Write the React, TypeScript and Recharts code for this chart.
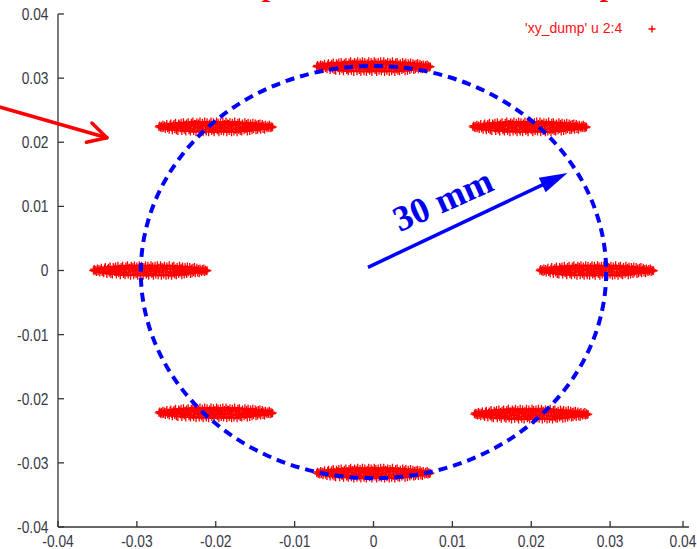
import React from 'react';
import {
  ScatterChart,
  Scatter,
  XAxis,
  YAxis,
  ReferenceArea,
  ReferenceLine,
  ReferenceDot,
  Legend,
} from 'recharts';

// ---------- data ----------
const xTicks = [-0.04, -0.03, -0.02, -0.01, 0, 0.01, 0.02, 0.03, 0.04];
const yTicks = [-0.04, -0.03, -0.02, -0.01, 0, 0.01, 0.02, 0.03, 0.04];

// centres of the eight beamlet spots (m)
const beamX = [0, 0.0198, 0.0283, 0.02, 0, -0.02, -0.0283, -0.02];
const beamY = [0.0318, 0.0224, 0, -0.0224, -0.0316, -0.0222, 0, 0.0224];

// spread of the dumped particles around each centre, in units of 1e-4 m: [dx, dy]
const spread: [number, number][] = [
  [-72, 0], [-71, 2], [-70, -1], [-69, 1], [-68, -2], [-67, 3], [-66, -1], [-65, 2], [-64, -3], [-63, 1],
  [-62, 4], [-61, -2], [-60, 0], [-59, -4], [-58, 3], [-57, 5], [-56, -1], [-55, -5], [-54, 2], [-53, 4],
  [-52, -3], [-51, 6], [-50, -5], [-49, 1], [-48, -6], [-47, 5], [-46, 3], [-45, -2], [-44, 6], [-43, -6],
  [-42, 0], [-41, 7], [-40, -4], [-39, 3], [-38, -7], [-37, 5], [-36, -1], [-35, 7], [-34, -5], [-33, 2],
  [-32, -7], [-31, 6], [-30, -3], [-29, 8], [-28, -6], [-27, 1], [-26, 4], [-25, -8], [-24, 7], [-23, -2],
  [-22, 5], [-21, -7], [-20, 8], [-19, 0], [-18, -5], [-17, 6], [-16, -8], [-15, 3], [-14, 8], [-13, -4],
  [-12, -7], [-11, 7], [-10, 1], [-9, -8], [-8, 5], [-7, -3], [-6, 8], [-5, -6], [-4, 2], [-3, 7],
  [-2, -8], [-1, 4], [0, -1], [1, 8], [2, -5], [3, 6], [4, -8], [5, 2], [6, 7], [7, -6],
  [8, 0], [9, 8], [10, -7], [11, 4], [12, -3], [13, 8], [14, -8], [15, 5], [16, 1], [17, -6],
  [18, 7], [19, -2], [20, -8], [21, 6], [22, 3], [23, -7], [24, 8], [25, -4], [26, 2], [27, -8],
  [28, 6], [29, -1], [30, 7], [31, -6], [32, 3], [33, -7], [34, 5], [35, 0], [36, -5], [37, 7],
  [38, -3], [39, 4], [40, -7], [41, 6], [42, -1], [43, -6], [44, 5], [45, 2], [46, -5], [47, 6],
  [48, -3], [49, 1], [50, 5], [51, -5], [52, 3], [53, -4], [54, 4], [55, -2], [56, 5], [57, -4],
  [58, 1], [59, 4], [60, -3], [61, 2], [62, -4], [63, 3], [64, 0], [65, -2], [66, 2], [67, -1],
  [68, 3], [69, -2], [70, 1], [71, -1], [72, 0],
  [-50, 1], [-44, -2], [-38, 2], [-33, -3], [-27, 4], [-22, -1], [-17, 2], [-12, 3], [-7, -1], [-3, -4],
  [2, 3], [6, -2], [11, -1], [16, 4], [20, 2], [25, 3], [29, -4], [34, -2], [39, 1], [45, -1], [50, 0],
];

// ---------- built table ----------
const points = beamX.flatMap((cx, i) =>
  spread.map(([dx, dy]) => ({ x: cx + dx / 10000, y: beamY[i] + dy / 10000 }))
);

// ---------- styles ----------
const SANS = "'Liberation Sans', Arial, sans-serif";
const SERIF = "'Liberation Serif', 'Times New Roman', serif";
const AXIS = '#333333';
const LABEL = '#383848';
const fmt = (v: number) => String(Number(v.toFixed(2)));

const BottomTick = (p: any) => (
  <g>
    <line x1={p.x} x2={p.x} y1={p.y} y2={p.y - 6} stroke={AXIS} strokeWidth={1.3} />
    <text
      transform={`translate(${p.x},${p.y + 20}) scale(1,1.2)`}
      textAnchor="middle"
      fontSize={13.8}
      fontFamily={SANS}
      fill={LABEL}
    >
      {fmt(p.payload.value)}
    </text>
  </g>
);

const LeftTick = (p: any) => (
  <g>
    <line x1={p.x} x2={p.x + 6} y1={p.y} y2={p.y} stroke={AXIS} strokeWidth={1.3} />
    <text
      transform={`translate(${p.x - 9.5},${p.y + 5.9}) scale(1,1.2)`}
      textAnchor="end"
      fontSize={13.8}
      fontFamily={SANS}
      fill={LABEL}
    >
      {fmt(p.payload.value)}
    </text>
  </g>
);

const TopTick = (p: any) => (
  <line x1={p.x} x2={p.x} y1={p.y} y2={p.y + 6} stroke={AXIS} strokeWidth={1.3} />
);

const RightTick = (p: any) => (
  <line x1={p.x} x2={p.x - 6} y1={p.y} y2={p.y} stroke={AXIS} strokeWidth={1.3} />
);

const Plus = (p: any) => {
  const { cx, cy } = p;
  if (cx == null || cy == null) return <g />;
  return (
    <path
      d={`M${cx - 4.2},${cy}H${cx + 4.2}M${cx},${cy - 4.2}V${cy + 4.2}`}
      stroke="#ff0000"
      strokeWidth={1.3}
      fill="none"
    />
  );
};

const DashedRing = (p: any) => (
  <ellipse
    cx={p.x + p.width / 2}
    cy={p.y + p.height / 2}
    rx={Math.abs(p.width) / 2}
    ry={Math.abs(p.height) / 2}
    fill="none"
    stroke="#0000ff"
    strokeWidth={4}
    strokeDasharray="9 6"
  />
);

const BlueArrow = (p: any) => {
  const { x1, y1, x2, y2 } = p;
  const len = Math.hypot(x2 - x1, y2 - y1) || 1;
  const ux = (x2 - x1) / len;
  const uy = (y2 - y1) / len;
  const bx = x2 - ux * 28;
  const by = y2 - uy * 28;
  const px = -uy;
  const py = ux;
  return (
    <g>
      <line x1={x1} y1={y1} x2={bx + ux * 2} y2={by + uy * 2} stroke="#0000ff" strokeWidth={3.5} />
      <polygon
        points={`${x2},${y2} ${bx + px * 8},${by + py * 8} ${bx - px * 8},${by - py * 8}`}
        fill="#0000ff"
      />
    </g>
  );
};

const RedArrow = (p: any) => {
  const { x1, y1, x2, y2 } = p;
  const len = Math.hypot(x2 - x1, y2 - y1) || 1;
  const ux = (x2 - x1) / len;
  const uy = (y2 - y1) / len;
  const bx = x2 - ux * 18.5;
  const by = y2 - uy * 18.5;
  const px = -uy;
  const py = ux;
  return (
    <g stroke="#ff0000" strokeWidth={3.5} fill="none" strokeLinecap="round" strokeLinejoin="round">
      <line x1={x1} y1={y1} x2={x2} y2={y2} />
      <polyline points={`${bx - px * 10},${by - py * 10} ${x2},${y2} ${bx + px * 10},${by + py * 10}`} />
    </g>
  );
};

const RadiusLabel = (p: any) => (
  <text
    x={p.cx}
    y={p.cy}
    transform={`rotate(-24 ${p.cx} ${p.cy})`}
    textAnchor="middle"
    dominantBaseline="central"
    fontFamily={SERIF}
    fontWeight="bold"
    fontSize={36}
    fill="#0000ee"
  >
    30 mm
  </text>
);

const LegendBox = () => (
  <svg width={170} height={24} style={{ display: 'block' }}>
    <text x={5} y={14} fontFamily={SANS} fontSize={14} fill="#ff1010">
      'xy_dump' u 2:4
    </text>
    <path d="M128.5,10H135.5M132,6.5V13.5" stroke="#ff0000" strokeWidth={1.4} />
  </svg>
);

export default function App() {
  return (
    <div style={{ position: 'absolute', left: 0, top: 0, width: 697, height: 549, background: '#ffffff' }}>
      <ScatterChart width={697} height={549} margin={{ top: 14, right: 8, bottom: 0, left: 0 }}>
        <XAxis
          dataKey="x"
          type="number"
          domain={[-0.04, 0.04]}
          ticks={xTicks}
          allowDataOverflow
          height={22}
          tickSize={0}
          tickMargin={0}
          tickLine={false}
          tick={<BottomTick />}
          axisLine={{ stroke: AXIS, strokeWidth: 1.3 }}
        />
        <XAxis
          xAxisId="top"
          orientation="top"
          type="number"
          domain={[-0.04, 0.04]}
          ticks={xTicks}
          allowDataOverflow
          height={0}
          tickSize={0}
          tickMargin={0}
          tickLine={false}
          tick={<TopTick />}
          axisLine={{ stroke: AXIS, strokeWidth: 1.3 }}
        />
        <YAxis
          dataKey="y"
          type="number"
          domain={[-0.04, 0.04]}
          ticks={yTicks}
          allowDataOverflow
          width={58}
          tickSize={0}
          tickMargin={0}
          tickLine={false}
          tick={<LeftTick />}
          axisLine={{ stroke: AXIS, strokeWidth: 1.3 }}
        />
        <YAxis
          yAxisId="right"
          orientation="right"
          type="number"
          domain={[-0.04, 0.04]}
          ticks={yTicks}
          allowDataOverflow
          width={0}
          tickSize={0}
          tickMargin={0}
          tickLine={false}
          tick={<RightTick />}
          axisLine={{ stroke: AXIS, strokeWidth: 1.3 }}
        />
        <Legend
          layout="horizontal"
          verticalAlign="middle"
          align="center"
          wrapperStyle={{ position: 'absolute', left: 520, top: 19, width: 170, height: 24 }}
          content={() => <LegendBox />}
        />
        <Scatter
          name="'xy_dump' u 2:4"
          data={points}
          shape={Plus}
          isAnimationActive={false}
        />
        <ReferenceArea
          x1={-0.0295}
          x2={0.0295}
          y1={-0.0324}
          y2={0.0319}
          shape={DashedRing}
          ifOverflow="visible"
          zIndex={700}
        />
        <ReferenceLine
          segment={[{ x: -0.0007, y: 0.0005 }, { x: 0.0246, y: 0.0152 }]}
          shape={BlueArrow}
          ifOverflow="visible"
          zIndex={710}
        />
        <ReferenceDot x={0.0088} y={0.0110} r={1} shape={RadiusLabel} ifOverflow="visible" zIndex={720} />
        <ReferenceLine
          segment={[{ x: -0.0474, y: 0.0255 }, { x: -0.0338, y: 0.0207 }]}
          shape={RedArrow}
          ifOverflow="visible"
          zIndex={730}
        />
      </ScatterChart>
      <svg
        width={697}
        height={20}
        style={{ position: 'absolute', left: 0, top: 0, pointerEvents: 'none' }}
      >
        <text x={270} y={-4} textAnchor="middle" fontFamily={SERIF} fontWeight="bold" fontSize={30} fill="#ff0000">
          p
        </text>
        <text x={608} y={-4} textAnchor="middle" fontFamily={SERIF} fontWeight="bold" fontSize={30} fill="#ff0000">
          p
        </text>
      </svg>
    </div>
  );
}
